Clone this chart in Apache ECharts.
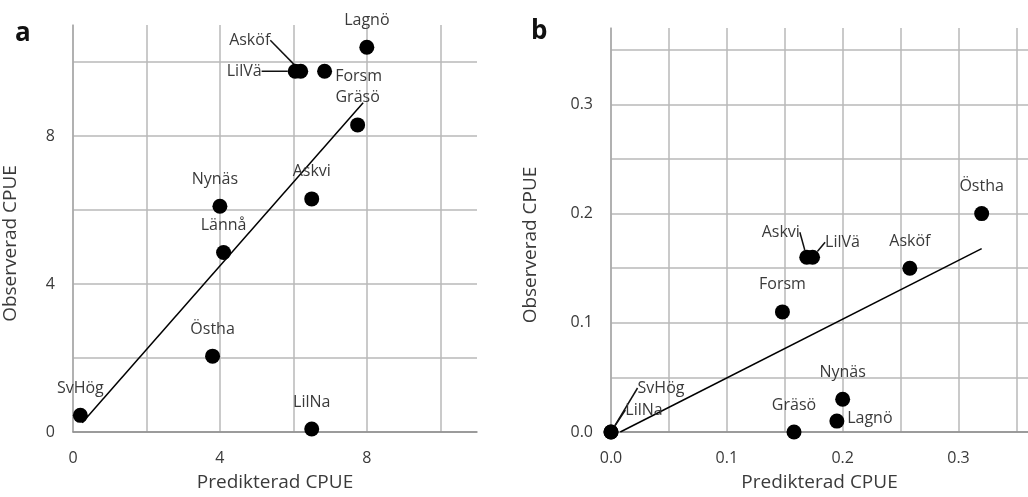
<!DOCTYPE html>
<html>
<head>
<meta charset="utf-8">
<script src="https://cdn.jsdelivr.net/npm/echarts@6/dist/echarts.min.js"></script>
<style>
html, body { margin: 0; padding: 0; background: #fff; }
#chart { width: 1028px; height: 497px; }
</style>
</head>
<body>
<div id="chart"></div>
<script>
// panel a
var namesA = ['Lagnö', 'Asköf', 'LilVä', 'Forsm', 'Gräsö', 'Askvi', 'Nynäs', 'Lännå', 'Östha', 'SvHög', 'LilNa']
var predA = [8.0, 6.2, 6.05, 6.85, 7.75, 6.5, 4.0, 4.1, 3.8, 0.2, 6.5]
var obsA = [10.4, 9.75, 9.75, 9.75, 8.3, 6.3, 6.1, 4.85, 2.05, 0.45, 0.08]
var fitAx = [0.25, 7.9]
var fitAy = [0.25, 8.9]
var ticksA = [0, 4, 8]

// panel b
var namesB = ['Östha', 'Asköf', 'Askvi', 'LilVä', 'Forsm', 'Nynäs', 'Lagnö', 'Gräsö', 'SvHög', 'LilNa']
var predB = [0.32, 0.258, 0.169, 0.174, 0.148, 0.2, 0.195, 0.158, 0.0, 0.0]
var obsB = [0.2, 0.15, 0.16, 0.16, 0.11, 0.03, 0.01, 0.0, 0.0, 0.0]
var fitBx = [0.008, 0.32]
var fitBy = [0.0, 0.168]
var ticksB = [0, 0.1, 0.2, 0.3]

// label placement (pixels from point centre)
var placeA = {
    'Asköf': { dx: -51, dy: -31, line: true },
    'LilVä': { dx: -51, dy: 0, line: true },
    'Forsm': { dx: 34, dy: 5 },
    'Nynäs': { dx: -5, dy: -27 }
}
var placeB = {
    'Askvi': { dx: -26, dy: -25, line: true },
    'LilVä': { dx: 30, dy: -15, line: true },
    'Lagnö': { dx: 33, dy: -3 },
    'SvHög': { dx: 50, dy: -44, line: true },
    'LilNa': { dx: 33, dy: -22, line: true }
}

var textColor = '#3a3a3a'
var gridColor = '#b8b8b8'
var font = '"Open Sans", sans-serif'

// only some grid values get a label
function shown(v, list) {
    return list.some(function(t) { return Math.abs(t - v) < 1e-9 })
}

function makeX(idx, max, interval, labels, dec) {
    return {
        gridIndex: idx, type: 'value', min: 0, max: max, interval: interval,
        name: 'Predikterad CPUE', nameLocation: 'middle', nameGap: 41,
        nameTextStyle: { fontFamily: font, fontSize: 19, color: textColor },
        axisLine: { show: true, lineStyle: { color: '#8c8c8c', width: 1.5 } },
        axisTick: { show: false },
        axisLabel: {
            margin: 18, fontFamily: font, fontSize: 16, color: textColor, showMaxLabel: false,
            formatter: function(v) { return shown(v, labels) ? v.toFixed(dec) : '' }
        },
        splitLine: { show: true, showMaxLine: false, lineStyle: { color: gridColor, width: 1.5 } }
    }
}

function makeY(idx, max, interval, labels, dec, gap) {
    return {
        gridIndex: idx, type: 'value', min: 0, max: max, interval: interval,
        name: 'Observerad CPUE', nameLocation: 'middle', nameGap: gap, nameRotate: 90,
        nameTextStyle: { fontFamily: font, fontSize: 19, color: textColor, padding: [0, 30, 0, 0] },
        axisLine: { show: true, lineStyle: { color: '#a8a8a8', width: 1.5 } },
        axisTick: { show: false },
        axisLabel: {
            margin: 18, fontFamily: font, fontSize: 16, color: textColor, showMaxLabel: false,
            formatter: function(v) { return shown(v, labels) ? v.toFixed(dec) : '' }
        },
        splitLine: { show: true, showMaxLine: false, lineStyle: { color: gridColor, width: 1.5 } }
    }
}

function pointSeries(idx, names, xs, ys, place) {
    var data = names.map(function(n, i) {
        var item = { name: n, value: [xs[i], ys[i]] }
        if (place[n] && place[n].line) {
            item.labelLine = { show: true }
        }
        return item
    })
    return {
        type: 'scatter', xAxisIndex: idx, yAxisIndex: idx, symbolSize: 15, z: 5,
        itemStyle: { color: '#000', opacity: 1 },
        label: {
            show: true, position: 'inside', formatter: '{b}',
            fontFamily: font, fontSize: 16, color: textColor
        },
        labelLine: { show: false, lineStyle: { color: '#111', width: 1.5 } },
        labelLayout: function(p) {
            var pl = place[names[p.dataIndex]] || { dx: 0, dy: -27 }
            return { dx: pl.dx, dy: pl.dy }
        },
        data: data
    }
}

function fitSeries(idx, xs, ys) {
    return {
        type: 'line', xAxisIndex: idx, yAxisIndex: idx, symbol: 'none', z: 4,
        lineStyle: { color: '#000', width: 1.5 },
        data: xs.map(function(x, i) { return [x, ys[i]] })
    }
}

var option = {
    animation: false,
    title: [
        { text: 'a', left: 10, top: 16, textStyle: { fontFamily: font, fontSize: 26, fontWeight: 'bold', color: '#111' } },
        { text: 'b', left: 526, top: 14, textStyle: { fontFamily: font, fontSize: 26, fontWeight: 'bold', color: '#111' } }
    ],
    grid: [
        { left: 71, top: 25, width: 406, height: 410 },
        { left: 611, top: 28, width: 417, height: 408 }
    ],
    xAxis: [makeX(0, 11, 2, ticksA, 0), makeX(1, 0.36, 0.05, ticksB, 1)],
    yAxis: [makeY(0, 11, 2, ticksA, 0, 53), makeY(1, 0.37, 0.05, ticksB, 1, 71)],
    series: [
        fitSeries(0, fitAx, fitAy),
        pointSeries(0, namesA, predA, obsA, placeA),
        fitSeries(1, fitBx, fitBy),
        pointSeries(1, namesB, predB, obsB, placeB)
    ]
}

var myChart = echarts.init(document.getElementById('chart'))
myChart.setOption(option)
window.addEventListener('resize', function() {
    myChart.resize()
})
</script>
</body>
</html>
